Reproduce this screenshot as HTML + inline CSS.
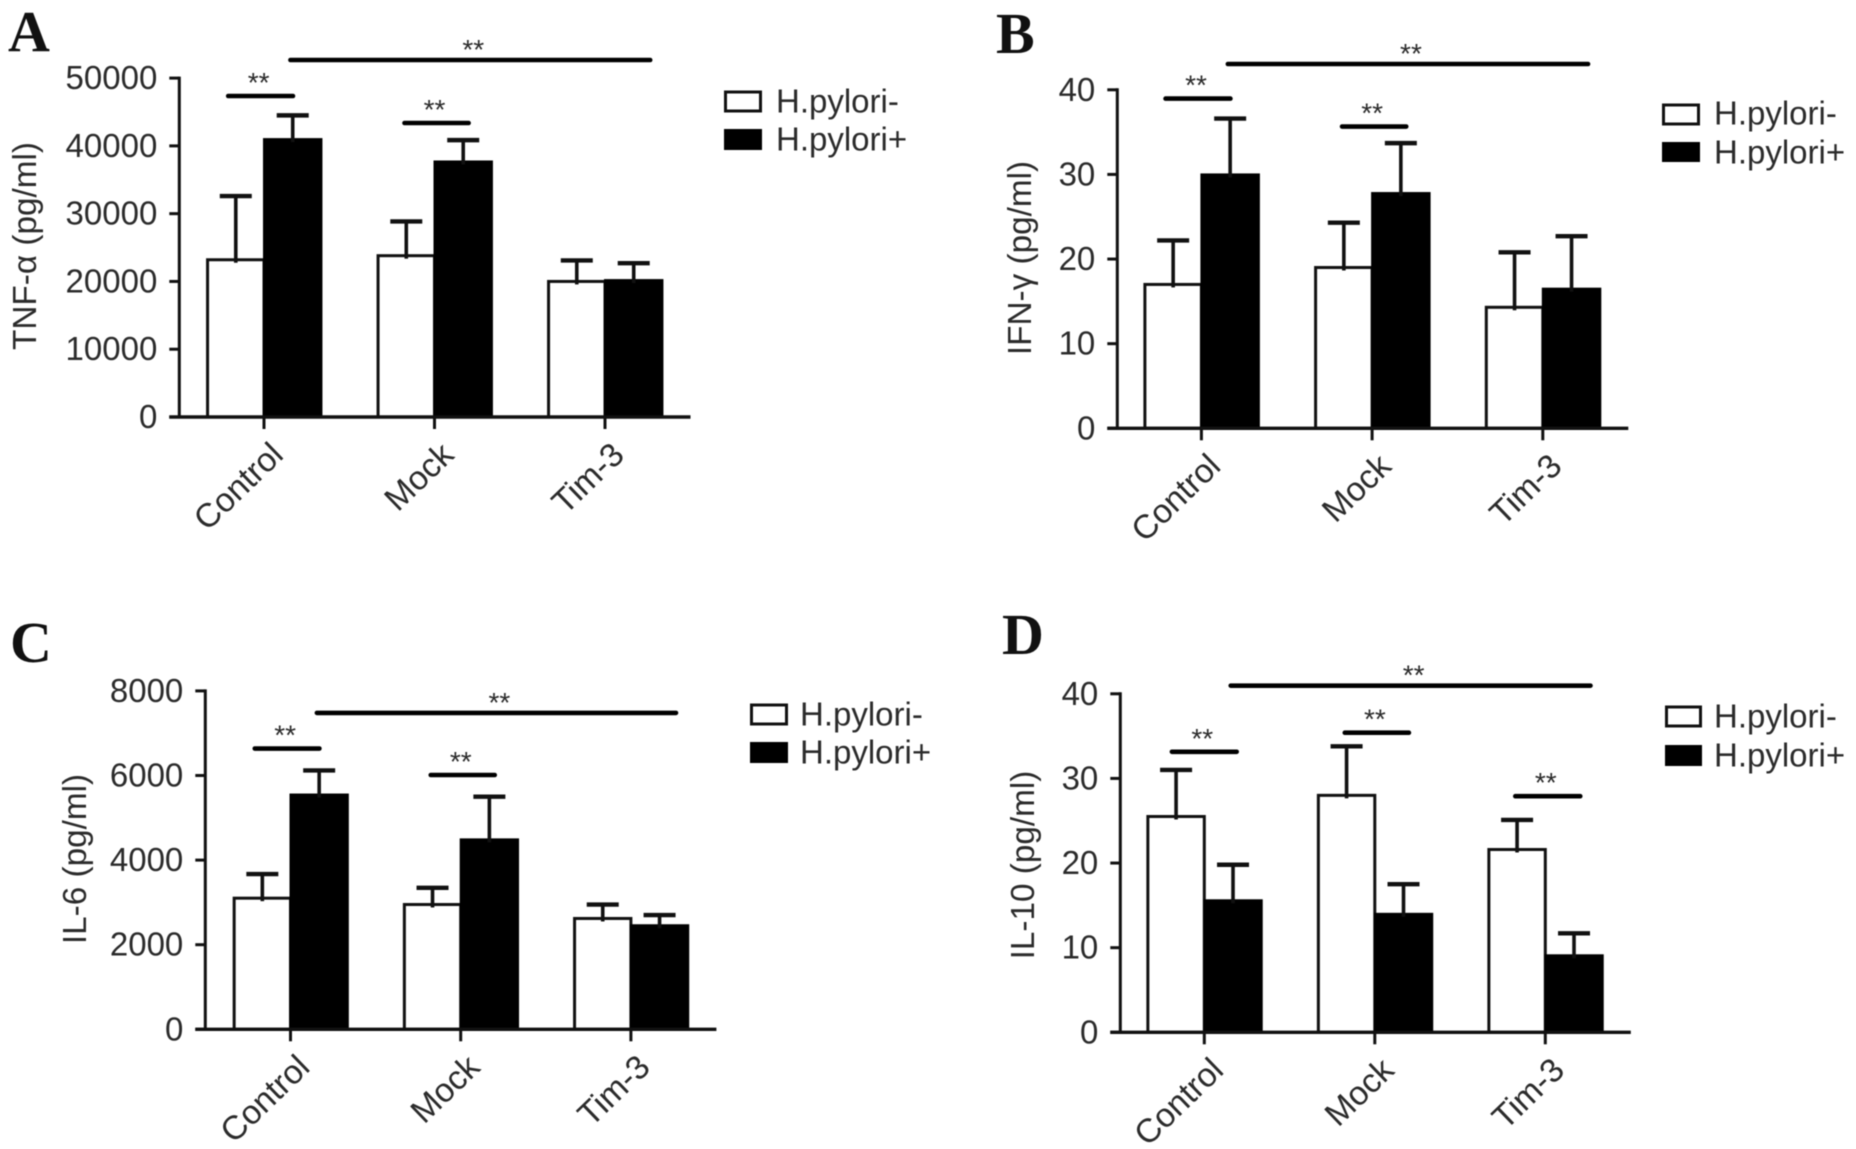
<!DOCTYPE html>
<html lang="en">
<head>
<meta charset="utf-8">
<title>Cytokine levels by H. pylori status</title>
<style>
html,body{margin:0;padding:0;background:#fff;}
svg{display:block;filter:blur(0.6px);}
text{font-family:"Liberation Sans",sans-serif;fill:#2b2b2b;}
.letter{font-family:"Liberation Serif",serif;font-weight:bold;font-size:58px;fill:#111;}
.title{font-size:33.3px;text-anchor:middle;}
.legend{font-size:33px;dominant-baseline:central;}
</style>
</head>
<body>
<svg id="figure" xmlns="http://www.w3.org/2000/svg" width="1856" height="1149" viewBox="0 0 1856 1149">
  <rect x="0" y="0" width="1856" height="1149" fill="#fff"/>

  <g id="panel-a">
    <text class="letter" x="8" y="51">A</text>
    <text class="title" transform="translate(36,246) rotate(-90)">TNF-α (pg/ml)</text>
    <rect x="725.5" y="92" width="35" height="19" fill="#fff" stroke="#111" stroke-width="3"/>
    <rect x="724" y="129" width="38" height="21" fill="#000"/>
    <text class="legend" x="776" y="101">H.pylori-</text>
    <text class="legend" x="776" y="139">H.pylori+</text>
  </g>

  <g id="panel-b">
    <text class="letter" x="996" y="53">B</text>
    <text class="title" transform="translate(1031,258) rotate(-90)">IFN-γ (pg/ml)</text>
    <rect x="1663.5" y="105" width="35" height="19" fill="#fff" stroke="#111" stroke-width="3"/>
    <rect x="1662" y="142" width="38" height="20" fill="#000"/>
    <text class="legend" x="1714" y="113">H.pylori-</text>
    <text class="legend" x="1714" y="152">H.pylori+</text>
  </g>

  <g id="panel-c">
    <text class="letter" x="10" y="662">C</text>
    <text class="title" transform="translate(86,859) rotate(-90)">IL-6 (pg/ml)</text>
    <rect x="751.5" y="705" width="35" height="19" fill="#fff" stroke="#111" stroke-width="3"/>
    <rect x="750" y="742" width="38" height="21" fill="#000"/>
    <text class="legend" x="800" y="714">H.pylori-</text>
    <text class="legend" x="800" y="752">H.pylori+</text>
  </g>

  <g id="panel-d">
    <text class="letter" x="1002" y="654">D</text>
    <text class="title" transform="translate(1034,865) rotate(-90)">IL-10 (pg/ml)</text>
    <rect x="1666.5" y="707" width="34" height="19" fill="#fff" stroke="#111" stroke-width="3"/>
    <rect x="1665" y="745" width="37" height="21" fill="#000"/>
    <text class="legend" x="1714" y="716">H.pylori-</text>
    <text class="legend" x="1714" y="755">H.pylori+</text>
  </g>
</svg>

<script>
const categories = ["Control", "Mock", "Tim-3"];

// Panel A: TNF-alpha
const yTicksA = [0, 10000, 20000, 30000, 40000, 50000];
const negMeanA = [23200, 23800, 20000];
const posMeanA = [41000, 37700, 20200];
const negUpperA = [32600, 28850, 23100];
const posUpperA = [44500, 40850, 22700];
const sigLevelA = [52670, 47360, 43375];
const sigStartA = [0.155, -0.21, 0.824];
const sigEndA = [2.265, 0.17, 1.2];

// Panel B: IFN-gamma
const yTicksB = [0, 10, 20, 30, 40];
const negMeanB = [17.0, 19.0, 14.3];
const posMeanB = [30.0, 27.8, 16.5];
const negUpperB = [22.2, 24.3, 20.8];
const posUpperB = [36.6, 33.7, 22.7];
const sigLevelB = [43.05, 38.96, 35.66];
const sigStartB = [0.155, -0.21, 0.824];
const sigEndB = [2.265, 0.17, 1.2];

// Panel C: IL-6
const yTicksC = [0, 2000, 4000, 6000, 8000];
const negMeanC = [3100, 2950, 2620];
const posMeanC = [5550, 4490, 2460];
const negUpperC = [3670, 3345, 2950];
const posUpperC = [6120, 5500, 2700];
const sigLevelC = [7480, 6638, 6012];
const sigStartC = [0.155, -0.21, 0.824];
const sigEndC = [2.265, 0.17, 1.2];

// Panel D: IL-10
const yTicksD = [0, 10, 20, 30, 40];
const negMeanD = [25.5, 28.0, 21.6];
const posMeanD = [15.6, 14.0, 9.1];
const negUpperD = [31.0, 33.8, 25.1];
const posUpperD = [19.8, 17.5, 11.7];
const sigLevelD = [40.96, 33.15, 35.4, 27.9];
const sigStartD = [0.155, -0.19, 0.824, 1.824];
const sigEndD = [2.265, 0.19, 1.2, 2.205];

const SVGNS = "http://www.w3.org/2000/svg";
const INK = "#111";

function mk(parent, tag, attrs, content) {
  const el = document.createElementNS(SVGNS, tag);
  for (const k in attrs) el.setAttribute(k, attrs[k]);
  if (content !== undefined) el.textContent = content;
  parent.appendChild(el);
  return el;
}

function drawPanel(p, yTicks, negMean, posMean, negUpper, posUpper, sigLevel, sigStart, sigEnd) {
  const root = document.getElementById("panel-" + p.id);
  const yMax = yTicks[yTicks.length - 1];
  const yScale = v => p.y0 - v * (p.y0 - p.yTop) / yMax;
  const xScale = i => p.tick0 + i * p.step;
  const halfBar = p.step * 0.331;

  // Error bars
  function errorBar(i, mean, upper, cx, label) {
    const g = mk(root, "g", {});
    
    
    const stem = mk(g, "line", {x1: cx, x2: cx, y1: yScale(mean) + 3, y2: yScale(upper), stroke: INK, "stroke-width": 3.6});
    
    
    const cap = mk(g, "line", {x1: cx - 16, x2: cx + 16, y1: yScale(upper), y2: yScale(upper), stroke: INK, "stroke-width": 4.4});
    
    
  }

  // Bars
  categories.forEach((cat, i) => {
    const tx = xScale(i);
    const slug = cat.toLowerCase();

    const white = mk(root, "rect", {
      x: tx - halfBar, y: yScale(negMean[i]),
      width: halfBar, height: p.y0 - yScale(negMean[i]),
      fill: "#fff", stroke: INK, "stroke-width": 3
    });
    
    

    const black = mk(root, "rect", {
      x: tx, y: yScale(posMean[i]),
      width: halfBar + 1, height: p.y0 - yScale(posMean[i]),
      fill: "#000", stroke: "#000", "stroke-width": 2
    });
    
    

    errorBar(i, negMean[i], negUpper[i], tx - halfBar / 2, "negative-" + slug);
    errorBar(i, posMean[i], posUpper[i], tx + halfBar / 2 + 0.5, "positive-" + slug);
  });

  // Y axis
  const yAxis = mk(root, "line", {x1: p.axisX, x2: p.axisX, y1: p.yTop - 1.5, y2: p.y0 + 1.5, stroke: INK, "stroke-width": 3});
  
  

  yTicks.forEach(t => {
    const y = yScale(t);
    const mark = mk(root, "line", {x1: p.axisX - 10, x2: p.axisX, y1: y, y2: y, stroke: INK, "stroke-width": 3});
    
    
    const lab = mk(root, "text", {x: p.axisX - 22, y: y + 11, "text-anchor": "end", "font-size": 33}, String(t));
    
    
  });

  // X axis
  const xAxis = mk(root, "line", {x1: p.axisX - 10, x2: xScale(categories.length - 1) + 85.5, y1: p.y0, y2: p.y0, stroke: INK, "stroke-width": 3.4});
  
  

  categories.forEach((cat, i) => {
    const tx = xScale(i);
    const slug = cat.toLowerCase();
    const mark = mk(root, "line", {x1: tx, x2: tx, y1: p.y0, y2: p.y0 + 12, stroke: INK, "stroke-width": 3});
    
    
    const lx = tx + 21;
    const ly = p.y0 + 40;
    const lab = mk(root, "text", {
      x: lx, y: ly, "text-anchor": "end", "font-size": 33.5,
      transform: "rotate(-44 " + lx + " " + ly + ")"
    }, cat);
    
    
  });

  // Significance brackets
  sigLevel.forEach((lvl, k) => {
    const x1 = xScale(sigStart[k]);
    const x2 = xScale(sigEnd[k]);
    const y = yScale(lvl);
    const line = mk(root, "line", {x1: x1, x2: x2, y1: y, y2: y, stroke: "#000", "stroke-width": 4.6, "stroke-linecap": "round"});
    
    
    const star = mk(root, "text", {x: (x1 + x2) / 2 + (k === 0 ? 3 : -2), y: y, "text-anchor": "middle", "font-size": 28}, "**");
    
    
    star.setAttribute("dy", k === 0 ? "-1" : "-4");
  });
}

drawPanel({id: "a", axisX: 179.3, y0: 417, yTop: 78.1, tick0: 264, step: 170.5},
  yTicksA, negMeanA, posMeanA, negUpperA, posUpperA, sigLevelA, sigStartA, sigEndA);
drawPanel({id: "b", axisX: 1117.3, y0: 428.3, yTop: 89.8, tick0: 1201.4, step: 170.7},
  yTicksB, negMeanB, posMeanB, negUpperB, posUpperB, sigLevelB, sigStartB, sigEndB);
drawPanel({id: "c", axisX: 205.3, y0: 1029.3, yTop: 690.9, tick0: 290.5, step: 170.2},
  yTicksC, negMeanC, posMeanC, negUpperC, posUpperC, sigLevelC, sigStartC, sigEndC);
drawPanel({id: "d", axisX: 1120.3, y0: 1032.3, yTop: 693.8, tick0: 1204.3, step: 170.5},
  yTicksD, negMeanD, posMeanD, negUpperD, posUpperD, sigLevelD, sigStartD, sigEndD);
</script>
</body>
</html>
